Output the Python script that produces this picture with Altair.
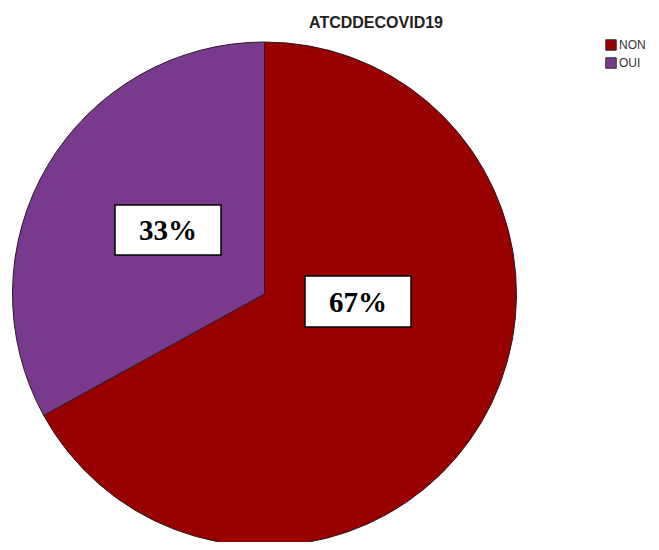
import altair as alt
import pandas as pd

categories = ["NON", "OUI"]
values = [67, 33]
labels = ["67%", "33%"]
colors = ["#990000", "#793A8D"]
title_text = "ATCDDECOVID19"

df = pd.DataFrame({"cat": categories, "val": values, "label": labels, "order": [0, 1]})

W, H = 643, 534
CX, CY, R = 256.5, 286, 252

base = alt.Chart(df)

pie = base.mark_arc(radius=R, stroke="#2a1a22", strokeWidth=1).encode(
    theta=alt.Theta("val:Q", stack=True),
    order=alt.Order("order:Q"),
    color=alt.Color(
        "cat:N",
        scale=alt.Scale(domain=categories, range=colors),
        legend=alt.Legend(
            title=None,
            orient="none",
            legendX=597,
            legendY=31,
            symbolType="square",
            symbolSize=110,
            symbolStrokeColor="#333333",
            symbolStrokeWidth=1,
            labelFont="Liberation Sans",
            labelFontSize=12,
            labelColor="#333333",
            labelOffset=2,
            rowPadding=2,
            padding=0,
        ),
    ),
    x=alt.value(CX),
    y=alt.value(CY),
)

# label boxes (annotation placement)
box_pos = {"OUI": (107, 197, 213, 247), "NON": (297, 268, 403, 319)}

layers = [pie]
for cat, (x1, y1, x2, y2) in box_pos.items():
    sub = base.transform_filter(alt.datum.cat == cat)
    layers.append(
        sub.mark_rect(fill="white", stroke="black", strokeWidth=1.5).encode(
            x=alt.value(x1), x2=alt.value(x2), y=alt.value(y1), y2=alt.value(y2)
        )
    )
    layers.append(
        sub.mark_text(
            font="Liberation Serif", fontWeight="bold", fontSize=29, color="black",
            align="center", baseline="middle",
        ).encode(
            text="label:N",
            x=alt.value((x1 + x2) / 2),
            y=alt.value((y1 + y2) / 2 + 1),
        )
    )

title = alt.Chart(pd.DataFrame({"t": [title_text]})).mark_text(
    font="Liberation Sans", fontWeight="bold", fontSize=16, color="#222222",
    align="center", baseline="middle",
).encode(text="t:N", x=alt.value(368), y=alt.value(15))
layers.append(title)

chart = alt.layer(*layers).properties(
    width=W, height=H, autosize=alt.AutoSizeParams(type="none"), padding=0
).configure_view(stroke=None)

chart.save("out.html", embed_options={"renderer": "svg", "actions": False})
